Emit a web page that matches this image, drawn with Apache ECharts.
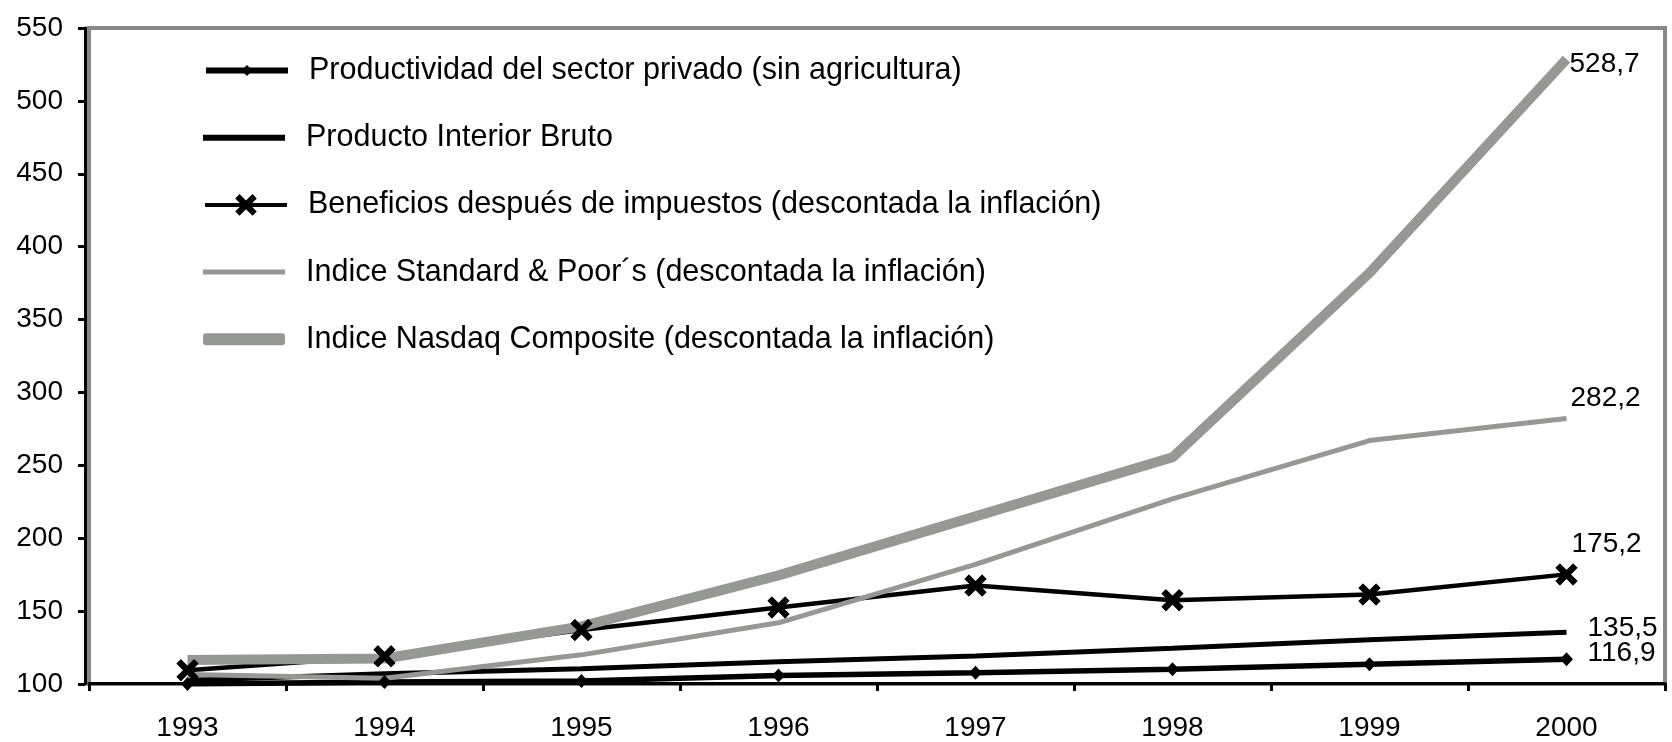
<!DOCTYPE html>
<html>
<head>
<meta charset="utf-8">
<title>Productividad, PIB, beneficios e índices bursátiles 1993-2000</title>
<script src="https://cdn.jsdelivr.net/npm/echarts@6/dist/echarts.min.js"></script>
<style>
html, body { margin: 0; padding: 0; background: #fff; }
#chart { width: 1672px; height: 742px; }
</style>
</head>
<body>
<div id="chart"></div>
<script>
const years = ['1993', '1994', '1995', '1996', '1997', '1998', '1999', '2000']
const productividad = [100, 101.3, 102, 105.8, 107.8, 110.2, 113.6, 116.9]
const pib = [102.5, 107, 110.5, 115.3, 119.2, 124.6, 130.3, 135.5]
const beneficios = [109.5, 119, 137, 152.5, 167.5, 157.5, 161.4, 175.2]
const standardPoors = [106.6, 104, 120, 142, 182, 227, 267, 282.2]
const nasdaq = [116.5, 117.5, 139.5, 174.5, 215, 255.5, 382, 528.7]
const yMin = 100
const yMax = 550
const yStep = 50

const names = [
  'Productividad del sector privado (sin agricultura)',
  'Producto Interior Bruto',
  'Beneficios después de impuestos (descontada la inflación)',
  'Indice Standard & Poor´s (descontada la inflación)',
  'Indice Nasdaq Composite (descontada la inflación)',
]

const font = "'Liberation Sans', Arial, sans-serif"
const gray = '#969896'
const cross = 'path://M2,0 L5,3 L8,0 L10,2 L7,5 L10,8 L8,10 L5,7 L2,10 L0,8 L3,5 L0,2 Z'

// etiqueta con el valor final (2000)
function endLabel(values, offset) {
  let last = values.length - 1
  return {
    symbol: 'circle',
    symbolSize: 2,
    itemStyle: { color: 'rgba(0,0,0,0)' },
    label: {
      show: true,
      position: 'right',
      distance: 0,
      offset: offset,
      color: '#000',
      fontSize: 28,
      fontFamily: font,
      formatter: (p) => String(p.value).replace('.', ','),
    },
    data: [{ coord: [years[last], values[last]], value: values[last] }],
  }
}

function legendRow(i, extra) {
  return Object.assign({
    data: [names[i]],
    left: 203,
    top: 70 + 67.2 * i - 15,
    itemWidth: 82,
    padding: 0,
    selectedMode: false,
    textStyle: {
      fontSize: 30.5,
      lineHeight: 30,
      color: '#000',
      fontFamily: font,
      padding: [0, 0, 0, 16],
    },
  }, extra)
}

let myChart = echarts.init(document.getElementById('chart'))
let option = {
  animation: false,
  backgroundColor: '#fff',
  textStyle: { fontFamily: font },
  grid: {
    left: 89,
    right: 7,
    top: 28,
    bottom: 58,
    show: true,
    borderColor: '#878787',
    borderWidth: 4,
    backgroundColor: '#fff',
  },
  legend: [
    legendRow(0, { itemHeight: 14, lineStyle: { width: 6 } }),
    legendRow(1, { itemHeight: 6, icon: 'rect' }),
    legendRow(2, { itemHeight: 27, lineStyle: { width: 4 } }),
    legendRow(3, { itemHeight: 5, icon: 'rect' }),
    legendRow(4, { itemHeight: 12, icon: 'roundRect', itemStyle: { borderRadius: 6 } }),
  ],
  xAxis: {
    type: 'category',
    data: years,
    boundaryGap: true,
    offset: -1,
    axisLine: { lineStyle: { color: '#000', width: 3 } },
    axisTick: { show: true, interval: 0, length: 8, lineStyle: { color: '#000', width: 3 } },
    axisLabel: { color: '#000', fontSize: 28, fontFamily: font, margin: 31 },
  },
  yAxis: {
    type: 'value',
    min: yMin,
    max: yMax,
    interval: yStep,
    offset: 4,
    splitLine: { show: false },
    axisLine: { show: true, lineStyle: { color: '#000', width: 3 } },
    axisTick: { show: true, length: 7, lineStyle: { color: '#000', width: 3 } },
    axisLabel: { color: '#000', fontSize: 28, fontFamily: font, margin: 22 },
  },
  series: [
    {
      name: names[0],
      type: 'line',
      data: productividad,
      color: '#000',
      lineStyle: { width: 5.5 },
      symbol: 'diamond',
      symbolSize: [13, 14],
      markPoint: endLabel(productividad, [20, -6]),
    },
    {
      name: names[1],
      type: 'line',
      data: pib,
      color: '#000',
      lineStyle: { width: 5 },
      symbol: 'none',
      markPoint: endLabel(pib, [20, -4]),
    },
    {
      name: names[2],
      type: 'line',
      data: beneficios,
      color: '#000',
      lineStyle: { width: 4.5 },
      symbol: cross,
      symbolSize: 22,
      markPoint: endLabel(beneficios, [4, -30]),
    },
    {
      name: names[3],
      type: 'line',
      data: standardPoors,
      color: gray,
      lineStyle: { width: 5 },
      symbol: 'none',
      markPoint: endLabel(standardPoors, [3, -20]),
    },
    {
      name: names[4],
      type: 'line',
      data: nasdaq,
      color: gray,
      lineStyle: { width: 10 },
      symbol: 'none',
      markPoint: endLabel(nasdaq, [2, 5]),
    },
    {
      // las aspas quedan por encima del Nasdaq
      name: 'marcas beneficios',
      type: 'scatter',
      data: beneficios,
      color: '#000',
      symbol: cross,
      symbolSize: 22,
      z: 3,
    },
  ],
}
myChart.setOption(option)
window.addEventListener('resize', () => {
  myChart.resize()
})
</script>
</body>
</html>
